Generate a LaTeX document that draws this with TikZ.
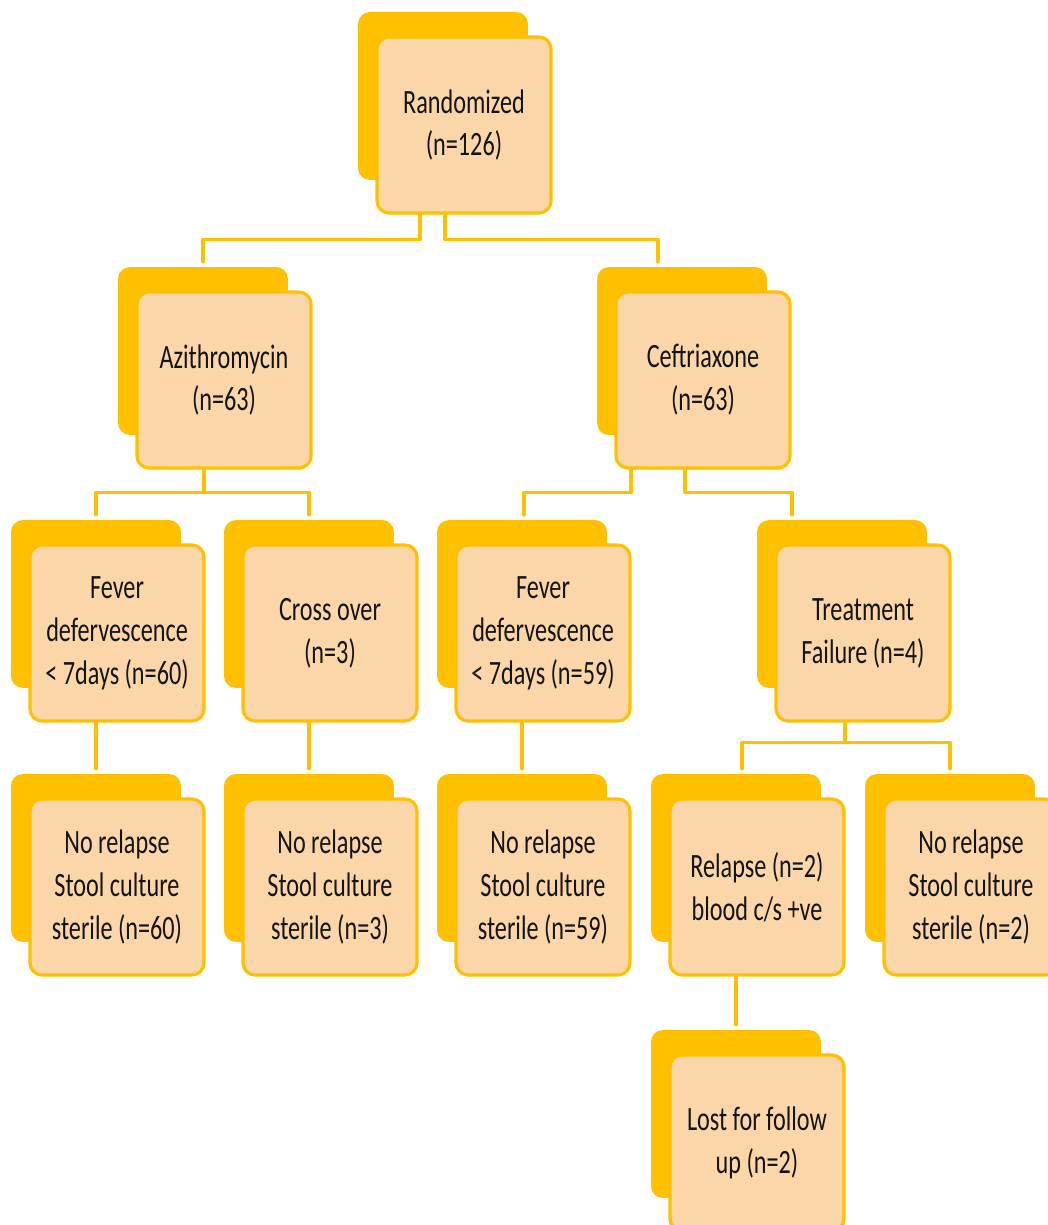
\documentclass[tikz,border=0pt]{standalone}
\usepackage{fontspec}
\setmainfont{Carlito}[FakeStretch=0.71]
\usetikzlibrary{calc}
\definecolor{gold}{RGB}{255,192,0}
\definecolor{peach}{RGB}{251,214,168}
\definecolor{ink}{RGB}{20,20,20}

\begin{document}
\begin{tikzpicture}[line cap=round,line join=round,x=0.02cm,y=-0.02cm,
		backbox/.style={fill=gold,rounded corners=0.24cm,minimum width=3.4cm,minimum height=3.36cm,inner sep=0pt},
		frontbox/.style={fill=peach,draw=gold,line width=1.8pt,rounded corners=0.24cm,minimum width=3.48cm,minimum height=3.52cm,inner sep=0pt,align=center,text=ink,font=\fontsize{19.4}{24.4}\selectfont},
		link/.style={draw=gold,line width=2.1pt}]
		\useasboundingbox (0,0) rectangle (1048,1225);
		\clip (0,0) rectangle (1048,1225);
		% boxes: back box first, then the front box on top
		\foreach \nm/\x/\y/\txt in {rand/464/125/{Randomized\\(n=126)},
				azith/224/380/{Azithromycin\\(n=63)},
				ceft/703/380/{Ceftriaxone\\(n=63)},
				fevA/117/633/{Fever\\defervescence\\< 7days (n=60)},
				cross/330/633/{Cross over\\(n=3)},
				fevB/543/633/{Fever\\defervescence\\< 7days (n=59)},
				fail/863/633/{Treatment\\Failure (n=4)},
				norelA/117/887/{No relapse\\Stool culture\\sterile (n=60)},
				norelB/330/887/{No relapse\\Stool culture\\sterile (n=3)},
				norelC/543/887/{No relapse\\Stool culture\\sterile (n=59)},
				relapse/757/887/{Relapse (n=2)\\blood c/s +ve},
				norelD/971/887/{No relapse\\Stool culture\\sterile (n=2)},
				lost/757/1143/{Lost for follow\\up (n=2)}}
		{
			\node[backbox] (\nm B) at (\x-21,\y-29) {};
			\node[frontbox] (\nm) at (\x,\y) {\txt};
		}
		% connectors
		\draw[link] ($(rand.south)+(-44,0)$) -- ++(0,25) -| ($(azithB.north)+(0,-5)$);
		\draw[link] ($(rand.south)+(-19,0)$) -- ++(0,25) -| ($(ceftB.north)+(-24,-5)$);
		\draw[link] ($(azith.south)+(-20,0)$) -- ++(0,23) coordinate (azj) -| ($(fevAB.north)+(0,-5)$);
		\draw[link] (azj) -| ($(crossB.north)+(0,-5)$);
		\draw[link] ($(ceft.south)+(-72,0)$) -- ++(0,23) -| ($(fevBB.north)+(2,-5)$);
		\draw[link] ($(ceft.south)+(-18,0)$) -- ++(0,23) -| ($(failB.north)+(-50,-5)$);
		\draw[link] (fevA.south -| fevAB.north) -- ($(norelAB.north)+(0,-5)$);
		\draw[link] (cross.south -| crossB.north) -- ($(norelBB.north)+(0,-5)$);
		\draw[link] (fevB.south -| fevBB.north) -- ($(norelCB.north)+(0,-5)$);
		\draw[link] ($(fail.south)+(-18,0)$) -- ++(0,20) coordinate (fj) -| ($(relapseB.north)+(6,-5)$);
		\draw[link] (fj) -| ($(norelDB.north)+(0,-5)$);
		\draw[link] (relapse.south -| lostB.north) -- ($(lostB.north)+(0,-5)$);
	\end{tikzpicture}
\end{document}
